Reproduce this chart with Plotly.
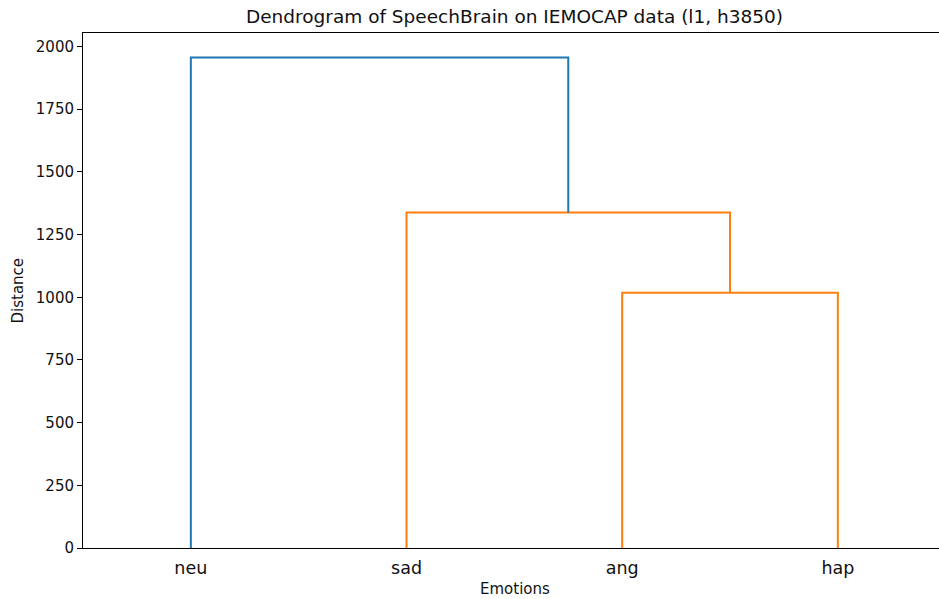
import plotly.graph_objects as go

# Data
labels = ["neu", "sad", "ang", "hap"]
# merges: (left child, right child, height); children are leaf indices or "c<i>" for earlier merges
merge_left = [2, 1, 0]
merge_right = [3, "c0", "c1"]
merge_height = [1018, 1338, 1956]
link_colors = ["#ff7f0e", "#ff7f0e", "#1f77b4"]
y_ticks = list(range(0, 2001, 250))

leaf_pos = [5 + 10 * i for i in range(len(labels))]

def node_pos(n, centers, heights):
    if isinstance(n, str):
        k = int(n[1:])
        return centers[k], heights[k]
    return leaf_pos[n], 0.0

fig = go.Figure()
centers, heights = [], []
for i, (a, b, h) in enumerate(zip(merge_left, merge_right, merge_height)):
    xa, ya = node_pos(a, centers, heights)
    xb, yb = node_pos(b, centers, heights)
    fig.add_trace(go.Scatter(x=[xa, xa, xb, xb], y=[ya, h, h, yb], mode="lines",
                             line=dict(color=link_colors[i], width=2),
                             hoverinfo="skip", showlegend=False))
    centers.append((xa + xb) / 2)
    heights.append(h)

ymax = max(merge_height) * 1.05

L, T, B = 83, 33, 51
W, H = 939, 599

fig.update_layout(
    width=W, height=H,
    margin=dict(l=L, r=0, t=T, b=B),
    plot_bgcolor="white", paper_bgcolor="white",
    font=dict(family="DejaVu Sans", color="black"),
    title=dict(text="Dendrogram of SpeechBrain on IEMOCAP data (l1, h3850)",
               x=514.5 / W, xanchor="center",
               y=1 - 17 / H, yanchor="middle", font=dict(size=18.5, color="#111")),
    xaxis=dict(range=[0, 39.69], tickvals=leaf_pos, ticktext=labels,
               showgrid=False, zeroline=False, showline=True, linecolor="black",
               linewidth=1, mirror=True, ticks="", tickfont=dict(size=17.5, color="#111"),
               ticklabelstandoff=4),
    yaxis=dict(range=[0, ymax], tickvals=y_ticks,
               showgrid=False, zeroline=False, showline=True, linecolor="black",
               linewidth=1, ticks="outside", ticklen=5, tickcolor="black",
               tickfont=dict(size=15, color="#111")),
    annotations=[
        dict(text="Emotions", xref="paper", yref="paper", x=(514.5 - L) / (W - L), y=-(589 - (H - B)) / (H - T - B),
             xanchor="center", yanchor="middle", showarrow=False, font=dict(size=15, color="#111")),
        dict(text="Distance", xref="paper", yref="paper", x=-(L - 17) / (W - L), y=0.5,
             xanchor="center", yanchor="middle", showarrow=False, textangle=-90,
             font=dict(size=15, color="#111")),
    ],
)

fig.write_html("out.html")
